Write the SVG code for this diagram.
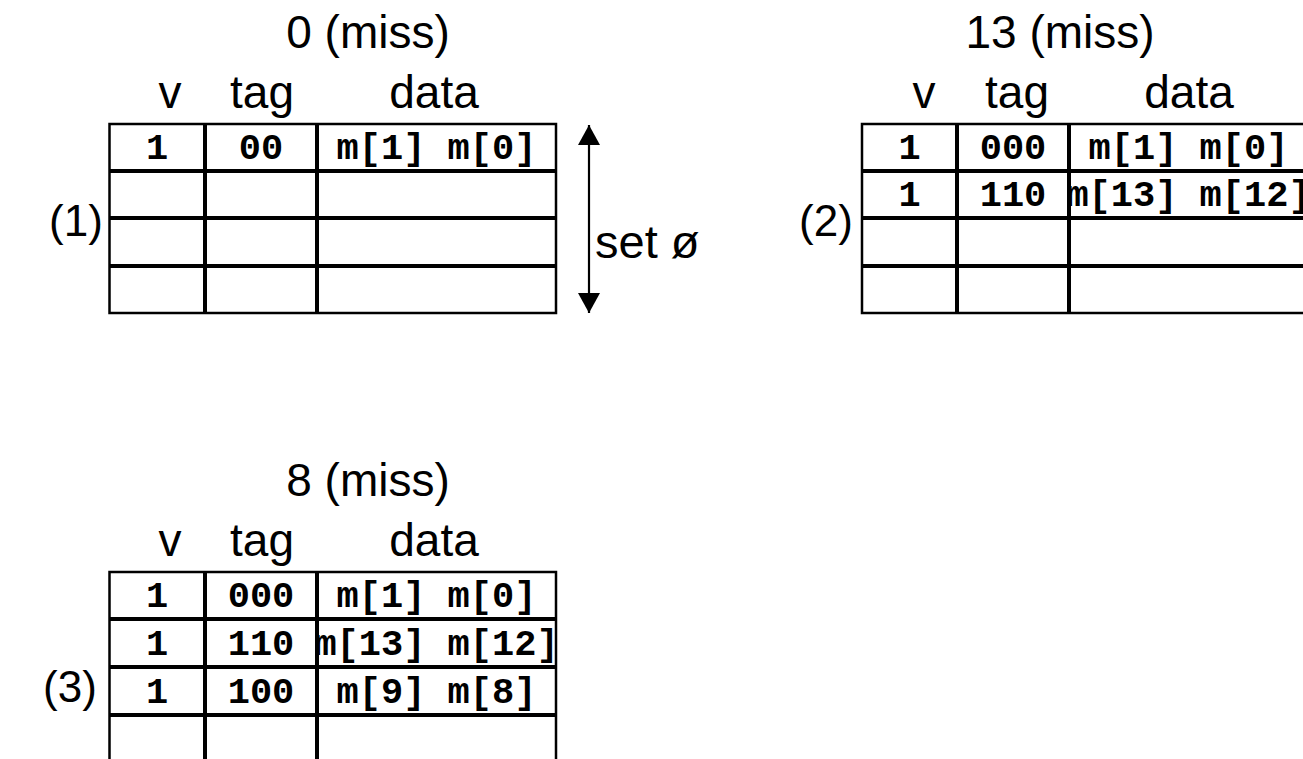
<svg xmlns="http://www.w3.org/2000/svg" width="1303" height="759" viewBox="0 0 1303 759">
  <style>
    .title { font-family: "Liberation Sans", Arial, sans-serif; font-size: 46px; fill: #000; text-anchor: middle; }
    .label { font-family: "Liberation Sans", Arial, sans-serif; font-size: 44px; fill: #000; text-anchor: middle; }
    .cell { font-family: "Liberation Mono", "Courier New", monospace; font-weight: bold; font-size: 37px; fill: #000; text-anchor: middle; }
    .frame { fill: #fff; stroke: #000; stroke-width: 2.5; }
    .grid { stroke: #000; stroke-width: 4; fill: none; }
  </style>
  <defs>
    <marker id="head" viewBox="0 0 20 22" refX="20" refY="11" markerWidth="20" markerHeight="22" markerUnits="userSpaceOnUse" orient="auto-start-reverse">
      <path d="M0,0 L20,11 L0,22 z" fill="#000"/>
    </marker>
  </defs>
  <rect width="1303" height="759" fill="#fff"/>

  <!-- (1) access 0 -->
  <g id="cache1">
    <text class="title" x="368" y="48">0 (miss)</text>
    <text class="title" x="170" y="108">v</text>
    <text class="title" x="262" y="108">tag</text>
    <text class="title" x="434" y="108">data</text>
    <text class="label" x="76" y="236">(1)</text>
    <rect class="frame" x="109.5" y="124" width="446.5" height="189"/>
    <path class="grid" d="M205,124 V313 M317,124 V313 M109.5,171 H556 M109.5,218 H556 M109.5,266 H556"/>
    <text class="cell" x="157" y="159">1</text>
    <text class="cell" x="261" y="159">00</text>
    <text class="cell" x="436.5" y="159">m[1] m[0]</text>
  </g>

  <!-- set index span -->
  <g id="connectors">
    <line x1="589" y1="125" x2="589" y2="313" stroke="#000" stroke-width="2.2" marker-start="url(#head)" marker-end="url(#head)"/>
  </g>
  <g id="setlabel">
    <text class="label" x="595" y="258" style="text-anchor:start;font-size:47px">set ø</text>
  </g>

  <!-- (2) access 13 -->
  <g id="cache2">
    <text class="title" x="1060" y="48">13 (miss)</text>
    <text class="title" x="924" y="108">v</text>
    <text class="title" x="1017" y="108">tag</text>
    <text class="title" x="1189" y="108">data</text>
    <text class="label" x="826" y="236">(2)</text>
    <rect class="frame" x="862" y="124" width="446.5" height="189"/>
    <path class="grid" d="M957,124 V313 M1069,124 V313 M862,171 H1308 M862,218 H1308 M862,266 H1308"/>
    <text class="cell" x="909.5" y="159">1</text>
    <text class="cell" x="1013" y="159">000</text>
    <text class="cell" x="1188.5" y="159">m[1] m[0]</text>
    <text class="cell" x="909.5" y="206">1</text>
    <text class="cell" x="1013" y="206">110</text>
    <text class="cell" x="1188.5" y="206">m[13] m[12]</text>
  </g>

  <!-- (3) access 8 -->
  <g id="cache3">
    <text class="title" x="368" y="496">8 (miss)</text>
    <text class="title" x="170" y="556">v</text>
    <text class="title" x="262" y="556">tag</text>
    <text class="title" x="434" y="556">data</text>
    <text class="label" x="70" y="702">(3)</text>
    <rect class="frame" x="109.5" y="572" width="446.5" height="190"/>
    <path class="grid" d="M205,572 V762 M317,572 V762 M109.5,619 H556 M109.5,667 H556 M109.5,715 H556"/>
    <text class="cell" x="157" y="607">1</text>
    <text class="cell" x="261" y="607">000</text>
    <text class="cell" x="436.5" y="607">m[1] m[0]</text>
    <text class="cell" x="157" y="655">1</text>
    <text class="cell" x="261" y="655">110</text>
    <text class="cell" x="436.5" y="655">m[13] m[12]</text>
    <text class="cell" x="157" y="703">1</text>
    <text class="cell" x="261" y="703">100</text>
    <text class="cell" x="436.5" y="703">m[9] m[8]</text>
  </g>
</svg>
